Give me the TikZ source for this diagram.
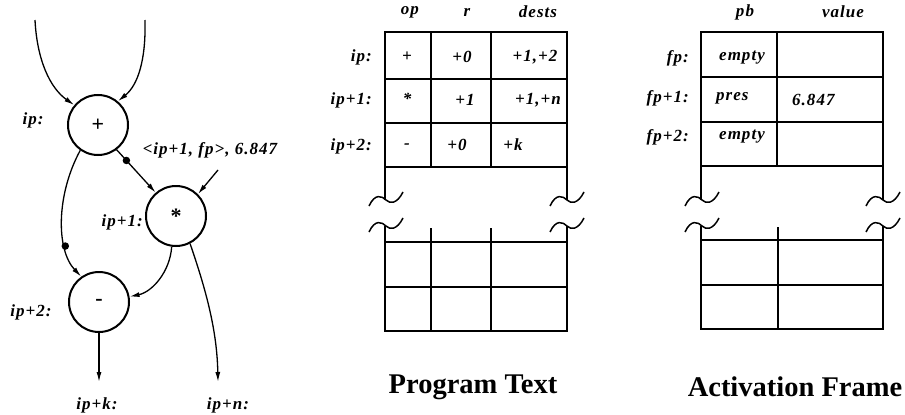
\documentclass[tikz,border=0pt]{standalone}
\usepackage{fontspec}
\setmainfont{Liberation Serif}
\newfontfamily\labfont[LetterSpace=6]{Liberation Serif}
\usetikzlibrary{arrows.meta}
\tikzset{
  brk/.pic={\draw[line width=1.5pt] (-17,6) .. controls (-11,-7) and (-4,-4) .. (0,0) .. controls (4,4) and (11,4) .. (17,-8);}
}
\begin{document}
\begin{tikzpicture}[x=1pt,y=-1pt,
  lab/.style={font=\labfont\bfseries\itshape\fontsize{17}{17}\selectfont, inner sep=0pt},
  labl/.style={lab, anchor=east},
  opn/.style={circle, draw, line width=2pt, minimum size=60pt, inner sep=0pt, font=\bfseries\fontsize{22}{22}\selectfont},
  arr/.style={line width=1.3pt, -{Latex[length=10pt,width=5pt]}},
  dotn/.style={circle, fill, inner sep=0pt, minimum size=7.5pt},
  tbl/.style={line width=2pt},
  gridl/.style={line width=1.5pt},
  ttl/.style={font=\bfseries\fontsize{28.5}{28.5}\selectfont, inner sep=0pt}
]
\useasboundingbox (0,0) rectangle (905,415);

% ---------- dataflow graph ----------
\node[opn] (plus) at (98,125) {+};
\node[opn] (mul) at (176,216) {*};
\node[opn] (minus) at (99,302) {-};
\coordinate (in1) at (35,20);
\coordinate (in2) at (145,20);
\coordinate (in3) at (218,170);
\coordinate (outk) at (99,382);
\coordinate (outn) at (218,382);

\draw[arr] (in1) .. controls (37,60) and (50,88) .. (plus.140);
\draw[arr] (in2) .. controls (146,60) and (138,85) .. (plus.50);
\draw[arr] (plus.-53) -- node[dotn, pos=0.25] (d1) {} (mul.131);
\draw[arr] (in3) -- (mul.45);
\draw[arr] (plus.-125) .. controls (56,195) and (56,250) .. node[dotn, pos=0.7] (d2) {} (minus.125);
\draw[arr] (mul.-98) .. controls (170,272) and (152,292) .. (minus.10);
\draw[arr] (mul.-63) .. controls (206,290) and (217,330) .. (outn);
\draw[arr] (minus) -- (outk);

\node[lab] (lip) at (33,120) {ip:};
\node[labl] (lip1) at (143,222) {ip+1:};
\node[lab] (lip2) at (31,312) {ip+2:};
\node[lab] (lipk) at (97,405) {ip+k:};
\node[lab] (lipn) at (228,405) {ip+n:};
\node[lab] (tok) at (210,150) {<ip+1, fp>, 6.847};

% ---------- Program Text ----------
\draw[tbl] (385,200) -- (385,32) -- (567,32) -- (567,200);
\draw[gridl] (385,79) -- (567,79) (385,123) -- (567,123) (385,167) -- (567,167);
\draw[gridl] (431,32) -- (431,167) (491,32) -- (491,167);
\draw[tbl] (385,226) -- (385,331) -- (567,331) -- (567,226);
\draw[gridl] (385,242) -- (567,242) (385,287) -- (567,287);
\draw[gridl] (431,228) -- (431,331) (491,228) -- (491,331);
\pic at (386,200) {brk};
\pic at (386,226) {brk};
\pic at (567,200) {brk};
\pic at (567,226) {brk};

\node[lab] (hop) at (410,12) {op};
\node[lab] (hr) at (467,12) {r};
\node[lab] (hd) at (538,12) {dests};
\node[labl] (pip) at (372,57) {ip:};
\node[labl] (pip1) at (372,100) {ip+1:};
\node[labl] (pip2) at (372,146) {ip+2:};
\node[lab] (c11) at (407,57) {+};
\node[lab] (c12) at (462,57) {+0};
\node[lab] (c13) at (535,57) {+1,+2};
\node[lab] (c21) at (407,99) {*};
\node[lab] (c22) at (465,100) {+1};
\node[lab] (c23) at (538,100) {+1,+n};
\node[lab] (c31) at (407,146) {-};
\node[lab] (c32) at (457,145) {+0};
\node[lab] (c33) at (513,145) {+k};
\node[ttl] (tpt) at (473,387) {Program Text};

% ---------- Activation Frame ----------
\draw[tbl] (701,200) -- (701,32) -- (883,32) -- (883,200);
\draw[gridl] (701,77) -- (883,77) (701,122) -- (883,122) (701,166) -- (883,166);
\draw[gridl] (777,32) -- (777,166);
\draw[tbl] (701,226) -- (701,329) -- (883,329) -- (883,226);
\draw[gridl] (701,240) -- (883,240) (701,285) -- (883,285);
\draw[gridl] (778,227) -- (778,329);
\pic at (702,200) {brk};
\pic at (702,226) {brk};
\pic at (883,200) {brk};
\pic at (883,226) {brk};

\node[lab] (hpb) at (745,12) {pb};
\node[lab] (hv) at (843,12) {value};
\node[labl] (ffp) at (689,58) {fp:};
\node[labl] (ffp1) at (689,98) {fp+1:};
\node[labl] (ffp2) at (689,137) {fp+2:};
\node[lab] (e1) at (742,58) {empty};
\node[lab, anchor=west] (e2) at (716,98) {pres};
\node[lab, anchor=west] (e3) at (792,100) {6.847};
\node[lab] (e4) at (742,137) {empty};
\node[ttl] (taf) at (795,387) {Activation Frame};
\end{tikzpicture}
\end{document}
